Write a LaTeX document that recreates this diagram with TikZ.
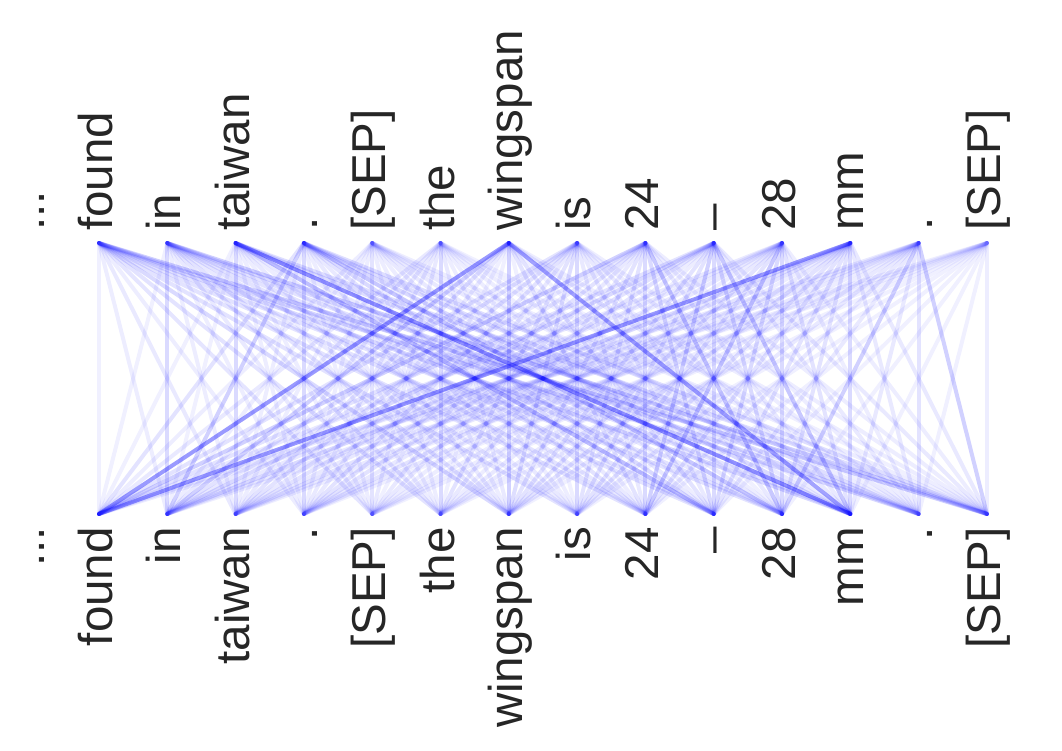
\documentclass[tikz,border=0pt]{standalone}
\usepackage{fontspec}
\setmainfont{Liberation Sans}
\definecolor{txt}{RGB}{38,38,38}
\definecolor{att}{RGB}{0,0,255}
\tikzset{
  attline/.style={draw=att, line width=4pt, line cap=round},
  toplbl/.style={anchor=base west, rotate=90, inner sep=0pt, text=txt, font=\fontsize{47.5}{47.5}\selectfont},
  botlbl/.style={anchor=base east, rotate=90, inner sep=0pt, text=txt, font=\fontsize{47.5}{47.5}\selectfont}
}
\begin{document}
\begin{tikzpicture}[x=1pt,y=1pt]
\useasboundingbox (0,0) rectangle (1062,750);
% token anchors
\foreach \k in {0,...,13} {
  \coordinate (t\k) at ({99+68.3*\k},507);
  \coordinate (b\k) at ({99+68.3*\k},236);
}
% attention lines
\foreach \w [count=\n from 0] in {
0.08,0.10,0.12,0.10,0.14,0.15,0.20,0.15,0.15,0.15,0.15,0.20,0.22,0.26,
0.08,0.20,0.10,0.10,0.12,0.14,0.15,0.12,0.15,0.15,0.15,0.15,0.20,0.26,
0.08,0.08,0.20,0.10,0.10,0.10,0.12,0.10,0.12,0.35,0.12,0.60,0.18,0.18,
0.15,0.25,0.10,0.20,0.10,0.10,0.12,0.12,0.15,0.20,0.30,0.20,0.18,0.18,
0.10,0.10,0.10,0.10,0.15,0.10,0.10,0.10,0.12,0.12,0.12,0.12,0.10,0.10,
0.12,0.12,0.12,0.12,0.12,0.20,0.12,0.10,0.10,0.10,0.10,0.10,0.08,0.08,
0.55,0.25,0.15,0.12,0.08,0.08,0.25,0.08,0.15,0.15,0.08,0.50,0.12,0.10,
0.15,0.15,0.15,0.15,0.12,0.15,0.18,0.20,0.12,0.12,0.12,0.12,0.10,0.10,
0.25,0.12,0.12,0.15,0.12,0.12,0.15,0.15,0.20,0.20,0.30,0.12,0.10,0.10,
0.15,0.20,0.15,0.15,0.10,0.10,0.15,0.15,0.25,0.20,0.20,0.30,0.12,0.12,
0.12,0.12,0.12,0.12,0.10,0.12,0.15,0.15,0.30,0.20,0.20,0.15,0.10,0.10,
0.55,0.20,0.15,0.15,0.10,0.12,0.15,0.15,0.15,0.15,0.15,0.20,0.12,0.12,
0.12,0.12,0.12,0.12,0.10,0.10,0.12,0.12,0.12,0.12,0.25,0.12,0.15,0.25,
0.10,0.10,0.10,0.08,0.08,0.08,0.08,0.08,0.08,0.08,0.08,0.08,0.08,0.10} {
  \pgfmathsetmacro\op{0.72*\w}
  \pgfmathtruncatemacro\ti{(\n+0.5)/14}
  \pgfmathtruncatemacro\bj{mod(\n,14)}
  \draw[attline, draw opacity=\op] (t\ti) -- (b\bj);
}
% labels
\node[toplbl] (lte) at (44.2,519) {...};
\node[botlbl] (lbe) at (44.2,223) {...};
\foreach \k/\s in {0/found,1/in,2/taiwan,3/.,4/[SEP],5/the,6/wingspan,7/is,8/24,9/–,10/28,11/mm,12/.,13/[SEP]} {
  \node[toplbl] (lt\k) at ({112.5+68.3*\k},519) {\s};
  \node[botlbl] (lb\k) at ({112.5+68.3*\k},223) {\s};
}
\end{tikzpicture}
\end{document}
